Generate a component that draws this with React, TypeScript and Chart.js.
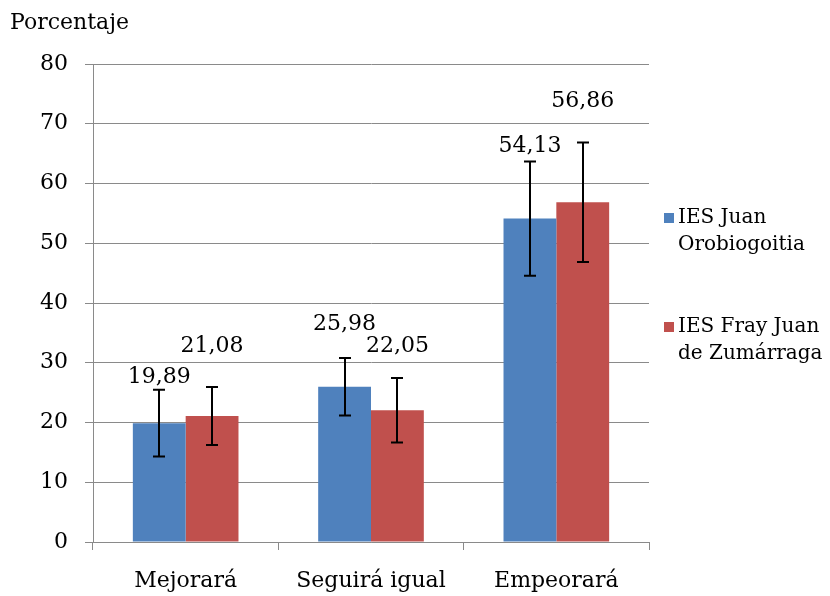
import { useEffect, useRef } from "react";
import { Chart, registerables } from "chart.js";

Chart.register(...registerables);

// ---- data ----
const categories = ["Mejorará", "Seguirá igual", "Empeorará"];
const seriesNames = ["IES Juan Orobiogoitia", "IES Fray Juan de Zumárraga"];
const legendLines = [
  ["IES Juan", "Orobiogoitia"],
  ["IES Fray Juan", "de Zumárraga"],
];
const juanValues = [19.89, 25.98, 54.13];
const frayValues = [21.08, 22.05, 56.86];
const juanErrors = [5.6, 4.8, 9.55];
const frayErrors = [4.85, 5.4, 10.0];
const yTickValues = [0, 10, 20, 30, 40, 50, 60, 70, 80];
const yTitle = "Porcentaje";

// ---- style ----
const FONT = "'DejaVu Serif', 'Liberation Serif', serif";
const BLUE = "#4F81BD";
const RED = "#C0504D";
const GRID = "#8a8a8a";
// manual label lift (px) above the error bar top, per series / category
const labelLift = [
  [12, 34, 15],
  [41, 32, 41],
];

const errorsBySeries = [juanErrors, frayErrors];

const errorBarPlugin = {
  id: "errorBars",
  afterDatasetsDraw(chart: any) {
    const { ctx } = chart;
    const yScale = chart.scales.y;
    ctx.save();
    ctx.strokeStyle = "#000";
    ctx.lineWidth = 2;
    chart.data.datasets.forEach((ds: any, di: number) => {
      const meta = chart.getDatasetMeta(di);
      meta.data.forEach((el: any, i: number) => {
        const v = ds.data[i];
        const e = errorsBySeries[di][i];
        const yTop = yScale.getPixelForValue(v + e);
        const yBot = yScale.getPixelForValue(v - e);
        const x = Math.round(el.x);
        ctx.beginPath();
        ctx.moveTo(x, yTop);
        ctx.lineTo(x, yBot);
        ctx.moveTo(x - 6, yTop);
        ctx.lineTo(x + 6, yTop);
        ctx.moveTo(x - 6, yBot);
        ctx.lineTo(x + 6, yBot);
        ctx.stroke();
      });
    });
    ctx.restore();
  },
};

const labelPlugin = {
  id: "valueLabels",
  afterDatasetsDraw(chart: any) {
    const { ctx } = chart;
    const yScale = chart.scales.y;
    ctx.save();
    ctx.fillStyle = "#000";
    ctx.font = `22px ${FONT}`;
    ctx.textAlign = "center";
    ctx.textBaseline = "middle";
    chart.data.datasets.forEach((ds: any, di: number) => {
      const meta = chart.getDatasetMeta(di);
      meta.data.forEach((el: any, i: number) => {
        const v = ds.data[i];
        const e = errorsBySeries[di][i];
        const y = yScale.getPixelForValue(v + e) - labelLift[di][i];
        ctx.fillText(v.toFixed(2).replace(".", ","), el.x, y);
      });
    });
    ctx.restore();
  },
};

const legendTitlePlugin = {
  id: "legendTitle",
  afterDraw(chart: any) {
    const { ctx, chartArea } = chart;
    ctx.save();
    ctx.fillStyle = "#000";
    ctx.font = `22px ${FONT}`;
    ctx.textAlign = "left";
    ctx.textBaseline = "middle";
    ctx.fillText(yTitle, 10, 23);

    ctx.font = `20px ${FONT}`;
    const colors = [BLUE, RED];
    const x0 = chartArea.right + 15;
    const firstY = chartArea.top + 154;
    const entryGap = 109;
    const lineGap = 27;
    legendLines.forEach((lines, li) => {
      const y = firstY + li * entryGap;
      ctx.fillStyle = colors[li];
      ctx.fillRect(x0, y - 5, 10, 10);
      ctx.fillStyle = "#000";
      lines.forEach((t, k) => {
        ctx.fillText(t, x0 + 14, y + k * lineGap);
      });
    });
    ctx.restore();
  },
};

export default function App() {
  const canvasRef = useRef<HTMLCanvasElement | null>(null);

  useEffect(() => {
    document.body.style.margin = "0";
    const canvas = canvasRef.current;
    if (!canvas) return;
    const chart = new Chart(canvas, {
      type: "bar",
      data: {
        labels: categories,
        datasets: [
          {
            label: seriesNames[0],
            data: juanValues,
            backgroundColor: BLUE,
            borderWidth: 0,
            categoryPercentage: 0.57,
            barPercentage: 1,
          },
          {
            label: seriesNames[1],
            data: frayValues,
            backgroundColor: RED,
            borderWidth: 0,
            categoryPercentage: 0.57,
            barPercentage: 1,
          },
        ],
      },
      options: {
        responsive: false,
        animation: false,
        devicePixelRatio: 1,
        layout: { padding: { left: 0, right: 181, top: 64, bottom: 0 } },
        plugins: {
          legend: { display: false },
          tooltip: { enabled: false },
          title: { display: false },
        },
        scales: {
          x: {
            grid: {
              display: true,
              drawOnChartArea: false,
              drawTicks: true,
              tickLength: 8,
              color: GRID,
              offset: true,
            },
            border: { display: true, color: GRID, width: 1 },
            ticks: {
              color: "#000",
              font: { family: FONT, size: 22 },
              padding: 18,
              maxRotation: 0,
            },
            afterFit(scale: any) {
              scale.height = 54;
            },
          },
          y: {
            min: 0,
            max: 80,
            afterBuildTicks(scale: any) {
              scale.ticks = yTickValues.map((v) => ({ value: v }));
            },
            grid: {
              color: GRID,
              lineWidth: 1,
              drawTicks: true,
              tickLength: 8,
            },
            border: { display: true, color: GRID, width: 1 },
            ticks: {
              color: "#000",
              font: { family: FONT, size: 22 },
              padding: 17,
            },
            afterFit(scale: any) {
              scale.width = 93;
            },
          },
        },
      },
      plugins: [errorBarPlugin, labelPlugin, legendTitlePlugin],
    });
    return () => chart.destroy();
  }, []);

  return (
    <div style={{ width: 830, height: 596, background: "#fff" }}>
      <canvas ref={canvasRef} width={830} height={596} style={{ display: "block" }} />
    </div>
  );
}
